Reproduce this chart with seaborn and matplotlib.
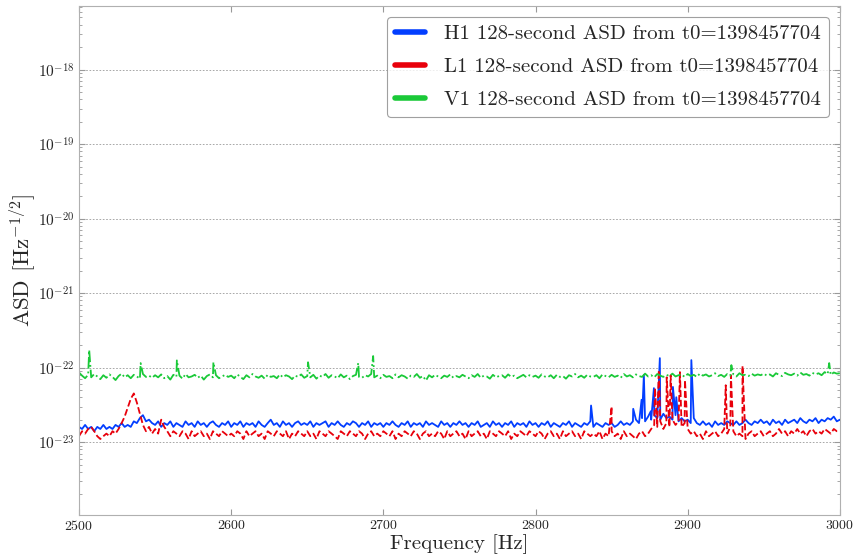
"""
128-second ASD of H1 / L1 / V1 between 2500 and 3000 Hz
"""

import numpy as np
import pandas as pd
import matplotlib
matplotlib.use("Agg")
import matplotlib.pyplot as plt
from matplotlib.ticker import FixedLocator, NullFormatter
import seaborn as sns

# frequency grid of the smoothed baseline (2 Hz steps)
freq_start, freq_stop, freq_step = 2500, 3000, 2
t0 = 1398457704

# baseline ASD values, units of 1e-23 / sqrt(Hz), one row = 50 Hz
h1_base = [
    1.6, 1.5, 1.7, 1.5, 1.6, 1.4, 1.6, 1.5, 1.7, 1.5, 1.6, 1.5, 1.7, 1.6, 1.8, 1.6, 1.7, 1.6, 1.9, 1.8, 2.1, 2.3, 1.9, 2.0, 1.8,
    1.7, 1.9, 1.6, 1.8, 1.7, 1.9, 1.6, 1.8, 1.7, 1.6, 1.9, 1.7, 1.8, 1.6, 1.9, 1.7, 1.8, 1.6, 1.8, 1.9, 1.7, 1.6, 1.8, 1.7, 1.9,
    1.6, 1.8, 1.7, 1.9, 1.6, 1.8, 1.7, 1.8, 1.6, 1.9, 1.7, 1.6, 1.8, 2.0, 1.7, 1.8, 1.6, 1.9, 1.7, 1.8, 1.6, 1.8, 1.9, 1.7, 1.8,
    1.7, 1.9, 1.6, 1.8, 1.7, 1.8, 1.9, 1.6, 1.8, 1.7, 1.9, 1.7, 1.6, 1.8, 1.7, 1.9, 1.8, 1.6, 1.8, 1.7, 1.9, 1.6, 1.8, 1.7, 1.8,
    1.6, 1.8, 1.7, 1.9, 1.7, 1.6, 1.8, 1.7, 1.9, 1.6, 1.8, 1.7, 1.8, 1.6, 1.9, 1.7, 1.8, 1.7, 1.6, 1.9, 1.7, 1.8, 1.6, 1.8, 1.7,
    1.9, 1.7, 1.8, 1.6, 1.8, 1.7, 1.9, 1.6, 1.7, 1.8, 1.6, 1.9, 1.7, 1.8, 1.6, 1.8, 1.7, 1.9, 1.6, 1.8, 1.7, 1.8, 1.6, 1.9, 1.7,
    1.8, 1.6, 1.8, 1.7, 1.9, 1.6, 1.8, 1.7, 1.6, 1.8, 1.7, 1.9, 1.6, 1.8, 1.7, 1.6, 1.8, 1.7, 1.9, 1.6, 1.8, 1.7, 1.6, 1.8, 1.7,
    1.8, 1.6, 1.7, 1.9, 1.7, 1.8, 1.7, 1.9, 2.0, 1.8, 2.1, 1.9, 2.2, 2.0, 2.3, 2.1, 2.0, 2.4, 2.1, 2.2, 2.0, 2.3, 1.9, 2.1, 1.9,
    2.0, 1.8, 2.1, 1.8, 1.7, 1.9, 1.7, 1.8, 1.6, 1.9, 1.7, 1.8, 1.7, 1.9, 1.8, 1.7, 1.9, 1.7, 1.8, 2.0, 1.8, 1.7, 1.9, 1.8, 2.0,
    1.8, 1.9, 1.7, 2.0, 1.8, 1.9, 1.7, 2.0, 1.8, 1.9, 2.0, 1.8, 2.1, 1.9, 1.8, 2.0, 1.9, 2.1, 1.8, 2.0, 1.9, 2.1, 2.0, 2.2, 1.9,
    2.0,
]
l1_base = [
    1.2, 1.4, 1.3, 1.5, 1.6, 1.4, 1.2, 1.1, 1.2, 1.3, 1.2, 1.4, 1.3, 1.5, 1.8, 2.2, 2.9, 3.8, 4.5, 3.4, 2.4, 1.7, 1.4, 1.6, 1.3,
    1.5, 1.3, 2.0, 1.6, 1.4, 1.2, 1.4, 1.3, 1.2, 1.4, 1.3, 1.1, 1.4, 1.2, 1.3, 1.4, 1.2, 1.3, 1.1, 1.4, 1.3, 1.2, 1.4, 1.3, 1.2,
    1.3, 1.2, 1.4, 1.3, 1.1, 1.4, 1.2, 1.3, 1.4, 1.2, 1.3, 1.1, 1.4, 1.3, 1.2, 1.4, 1.3, 1.2, 1.4, 1.1, 1.3, 1.2, 1.4, 1.3, 1.2,
    1.4, 1.2, 1.3, 1.1, 1.4, 1.3, 1.2, 1.4, 1.3, 1.2, 1.1, 1.4, 1.3, 1.2, 1.4, 1.3, 1.2, 1.4, 1.3, 1.1, 1.3, 1.4, 1.2, 1.3, 1.2,
    1.4, 1.3, 1.2, 1.4, 1.1, 1.3, 1.2, 1.4, 1.3, 1.2, 1.4, 1.3, 1.1, 1.3, 1.4, 1.2, 1.3, 1.2, 1.4, 1.3, 1.1, 1.4, 1.2, 1.3, 1.4,
    1.2, 1.3, 1.1, 1.4, 1.2, 1.3, 1.4, 1.2, 1.3, 1.1, 1.4, 1.3, 1.2, 1.4, 1.3, 1.2, 1.4, 1.1, 1.3, 1.2, 1.4, 1.3, 1.2, 1.4, 1.3,
    1.2, 1.4, 1.3, 1.1, 1.3, 1.4, 1.2, 1.3, 1.1, 1.4, 1.2, 1.3, 1.4, 1.2, 1.3, 1.1, 1.4, 1.3, 1.2, 1.3, 1.2, 1.4, 1.1, 1.3, 1.2,
    1.4, 1.2, 1.3, 1.1, 1.4, 1.2, 1.3, 1.2, 1.1, 1.3, 1.4, 1.2, 1.3, 1.5, 1.7, 1.6, 1.9, 1.5, 1.8, 1.6, 2.0, 1.7, 1.9, 1.6, 1.8,
    1.5, 1.3, 1.4, 1.2, 1.3, 1.1, 1.4, 1.2, 1.3, 1.4, 1.2, 1.3, 1.5, 1.3, 1.6, 1.4, 1.2, 1.3, 1.2, 1.1, 1.3, 1.4, 1.2, 1.3, 1.4,
    1.2, 1.3, 1.4, 1.2, 1.3, 1.5, 1.3, 1.4, 1.2, 1.4, 1.3, 1.5, 1.3, 1.4, 1.2, 1.4, 1.5, 1.3, 1.4, 1.3, 1.5, 1.4, 1.3, 1.5, 1.4,
    1.4,
]
v1_base = [
    8.6, 7.8, 7.2, 8.0, 7.4, 8.2, 7.6, 7.0, 7.9, 7.3, 8.1, 7.5, 6.8, 7.7, 8.3, 7.4, 7.9, 7.2, 8.0, 7.6, 7.1, 8.2, 7.5, 7.8, 7.3,
    7.9, 7.4, 8.1, 7.2, 7.7, 6.9, 8.0, 7.5, 7.8, 7.1, 8.2, 7.4, 7.6, 8.0, 7.3, 7.8, 6.9, 7.7, 8.1, 7.4, 7.9, 7.2, 7.6, 8.0, 7.5,
    7.8, 7.2, 8.1, 7.5, 7.0, 7.9, 7.4, 8.2, 7.6, 7.3, 7.8, 7.1, 8.0, 7.5, 7.7, 7.2, 8.1, 7.4, 7.9, 7.6, 7.0, 7.8, 7.5, 8.1, 7.3,
    7.7, 7.4, 8.0, 7.1, 7.8, 7.5, 8.2, 7.3, 7.9, 7.6, 7.2, 8.1, 7.4, 7.8, 7.0, 7.7, 8.0, 7.5, 7.3, 7.9, 7.6, 8.2, 7.4, 7.8, 7.2,
    8.0, 7.5, 7.7, 7.2, 8.1, 7.4, 7.9, 7.6, 7.1, 7.8, 7.5, 8.2, 7.3, 7.7, 6.7, 7.9, 7.4, 8.0, 7.6, 7.2, 7.8, 7.5, 8.1, 7.3, 7.7,
    7.4, 8.0, 7.6, 7.2, 7.9, 7.5, 8.2, 7.3, 7.8, 7.6, 7.1, 8.0, 7.4, 7.7, 7.9, 7.3, 8.1, 7.5, 7.8, 7.2, 7.6, 8.0, 7.4, 7.9, 7.5,
    7.8, 7.3, 8.1, 7.6, 7.4, 7.9, 7.2, 8.0, 7.5, 7.7, 7.1, 7.9, 7.6, 8.2, 7.4, 7.8, 7.3, 8.0, 7.6, 7.5, 7.9, 7.2, 8.1, 7.7, 7.4,
    8.0, 7.5, 7.8, 7.3, 8.2, 7.6, 7.9, 7.4, 8.1, 7.7, 7.5, 8.3, 7.6, 7.9, 7.4, 8.2, 7.8, 7.5, 8.0, 7.7, 8.3, 7.6, 7.9, 8.1, 7.5,
    8.2, 7.7, 8.0, 7.5, 8.3, 7.8, 8.1, 7.6, 7.9, 8.4, 7.7, 8.0, 7.5, 8.2, 7.8, 8.1, 7.6, 8.4, 7.9, 8.0, 7.7, 8.3, 7.8, 8.1, 7.9,
    8.3, 7.8, 8.1, 7.6, 8.4, 8.0, 7.7, 8.5, 8.1, 7.9, 8.3, 7.8, 8.6, 8.0, 8.2, 7.8, 8.5, 8.1, 8.4, 7.9, 8.7, 8.2, 8.0, 8.6, 8.3,
    8.4,
]

# narrow spectral lines (frequency in Hz, ASD in 1e-23 / sqrt(Hz))
h1_line_freqs = [2836.5, 2864.2, 2869.7, 2871.2, 2875.8, 2877.8, 2881.7, 2890.3, 2892.5, 2902.4]
h1_line_vals = [3.1, 2.8, 3.7, 8.0, 2.6, 5.3, 13.4, 5.5, 4.0, 12.6]
l1_line_freqs = [2850.0, 2878.5, 2881.0, 2886.2, 2888.8, 2894.9, 2898.2, 2925.0, 2928.4, 2936.0]
l1_line_vals = [3.0, 5.3, 9.2, 7.4, 7.9, 8.7, 6.8, 5.8, 7.9, 10.5]
v1_line_freqs = [2506.7, 2540.5, 2564.3, 2588.3, 2650.5, 2683.5, 2693.3, 2928.7, 2993.0]
v1_line_vals = [17.2, 11.5, 12.5, 11.8, 11.8, 11.5, 14.3, 10.8, 11.5]

y_major_ticks = [1e-23, 1e-22, 1e-21, 1e-20, 1e-19, 1e-18]
x_ticks = [2500, 2600, 2700, 2800, 2900, 3000]

detectors = ["H1", "L1", "V1"]
colors = {"H1": "#023eff", "L1": "#e8000b", "V1": "#1ac938"}
styles = {"H1": "-", "L1": "--", "V1": "-."}


def build_series(name, base, line_f, line_v):
    f = np.concatenate([np.arange(freq_start, freq_stop + 1, freq_step), line_f])
    v = np.concatenate([base, line_v]) * 1e-23
    df = pd.DataFrame({"freq": f, "asd": v}).sort_values("freq")
    df["label"] = f"{name} 128-second ASD from t0={t0}"
    return df


series = {
    "H1": build_series("H1", h1_base, h1_line_freqs, h1_line_vals),
    "L1": build_series("L1", l1_base, l1_line_freqs, l1_line_vals),
    "V1": build_series("V1", v1_base, v1_line_freqs, v1_line_vals),
}

sns.set_style("ticks")
plt.rcParams["font.family"] = "serif"
plt.rcParams["font.serif"] = ["cmr10", "DejaVu Serif"]
plt.rcParams["mathtext.fontset"] = "cm"
plt.rcParams["axes.formatter.use_mathtext"] = True
plt.rcParams["axes.unicode_minus"] = False

fig = plt.figure(figsize=(8.57, 5.58), dpi=100)
ax = fig.add_axes([0.0922, 0.077, 0.8878, 0.912])

for det in detectors:
    df = series[det]
    sns.lineplot(data=df, x="freq", y="asd", ax=ax, color=colors[det],
                 linestyle=styles[det], linewidth=1.3, estimator=None,
                 sort=False, label=df["label"].iloc[0])

ax.set_yscale("log")
ax.set_xlim(2500, 3000)
ax.set_ylim(1.05e-24, 7.1e-18)
ax.set_xticks(x_ticks)
ax.yaxis.set_major_locator(FixedLocator(y_major_ticks))
ax.yaxis.set_minor_formatter(NullFormatter())

ax.set_xlabel("Frequency [Hz]", fontsize=15, labelpad=1)
ax.set_ylabel(r"ASD [Hz$^{-1/2}$]", fontsize=16.5, labelpad=0)
ax.tick_params(axis="both", which="both", direction="in", top=True, right=True,
               color="#999999")
ax.tick_params(axis="x", labelsize=10, pad=3)
ax.tick_params(axis="y", labelsize=11)
ax.tick_params(which="major", length=4)
ax.tick_params(which="minor", length=2)
ax.yaxis.grid(True, which="major", linestyle=(0, (2, 2)), color="#999999",
              linewidth=0.6)
ax.xaxis.grid(False)
for sp in ax.spines.values():
    sp.set_color("#b0b0b0")

leg = ax.legend(loc="upper right", fontsize=15, frameon=True, fancybox=True,
                handlelength=1.45, borderpad=0.4, labelspacing=0.68,
                handletextpad=0.9, borderaxespad=0.5)
leg.get_frame().set_edgecolor("#888888")
leg.get_frame().set_linewidth(0.8)
for line in leg.get_lines():
    line.set_linewidth(4)
    line.set_linestyle("-")

plt.savefig("out.png", dpi=100)
